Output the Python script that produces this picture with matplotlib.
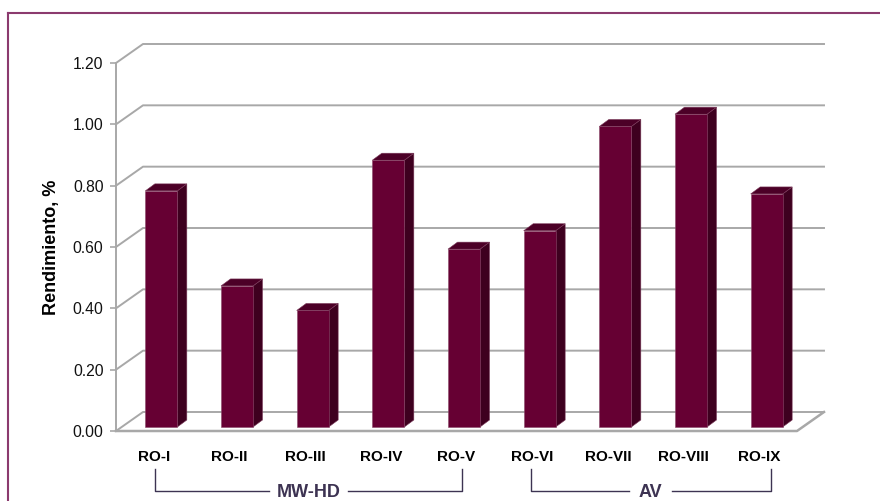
import matplotlib.pyplot as plt
from matplotlib.patches import Polygon

plt.rcParams['font.family'] = ['Liberation Sans', 'DejaVu Sans']

# yields per run
labels = ['RO-I', 'RO-II', 'RO-III', 'RO-IV', 'RO-V', 'RO-VI', 'RO-VII', 'RO-VIII', 'RO-IX']
values = [0.77, 0.46, 0.38, 0.87, 0.58, 0.64, 0.98, 1.02, 0.76]
groups = [('MW-HD', 0, 4), ('AV', 5, 8)]
yticks = [0.0, 0.2, 0.4, 0.6, 0.8, 1.0, 1.2]

front = '#660033'
side = '#3e001f'
top = '#4c0027'
grid = '#a8a8a8'

W, H = 880, 501
fig = plt.figure(figsize=(W / 100, H / 100), dpi=100)
ax = fig.add_axes([116 / W, (H - 431) / H, 681 / W, 368 / H])
ax.set_xlim(-0.5, 8.5)
ax.set_ylim(0, 1.2)

# pixel -> data unit conversions
px_x = 9 / 681
px_y = 1.2 / 368

# wall depth offset
wdx, wdy = 27 * px_x, 19 * px_y

# gridlines on the back wall with diagonals on the left side wall
for v in yticks:
    ax.plot([-0.5, -0.5 + wdx, 8.5 + wdx], [v, v + wdy, v + wdy],
            color=grid, lw=1.4, clip_on=False, zorder=1)
# floor front edge and right diagonal
ax.plot([-0.5, 8.5, 8.5 + wdx], [0, 0, wdy], color=grid, lw=1.8,
        clip_on=False, zorder=1)

# 3D-looking bars
bw = 32 * px_x
off_x, off_y = 7.5 * px_x, 4 * px_y
ddx, ddy = 9.5 * px_x, 7 * px_y
for i, v in enumerate(values):
    x0 = i - bw / 2 + off_x
    x1 = x0 + bw
    y0 = off_y
    y1 = v + off_y
    ax.add_patch(Polygon([(x1, y0), (x1 + ddx, y0 + ddy), (x1 + ddx, y1 + ddy), (x1, y1)],
                         closed=True, facecolor=side, edgecolor='#7a3a5a', lw=0.4,
                         clip_on=False, zorder=3))
    ax.add_patch(Polygon([(x0, y1), (x1, y1), (x1 + ddx, y1 + ddy), (x0 + ddx, y1 + ddy)],
                         closed=True, facecolor=top, edgecolor='#7a3a5a', lw=0.4,
                         clip_on=False, zorder=3))
    ax.bar(x0, v, width=bw, bottom=y0, align='edge', color=front,
           edgecolor='#8a4a6a', lw=0.4, zorder=4)

for s in ['top', 'right', 'bottom']:
    ax.spines[s].set_visible(False)
ax.spines['left'].set_color(grid)
ax.spines['left'].set_linewidth(1.4)
ax.set_yticks(yticks)
ax.set_yticklabels([f'{t:.2f}' for t in yticks], fontsize=11.3, color='#111111')
ax.tick_params(axis='y', length=4, color=grid, width=1.2, pad=5)
ax.set_xticks(range(len(labels)))
ax.set_xticklabels(labels, fontsize=11, fontweight='bold')
ax.tick_params(axis='x', length=0, pad=14)
ax.set_ylabel('Rendimiento, %', fontsize=13, fontweight='bold', labelpad=9)

# group brackets under the category labels
bc = '#3d3352'
ends = {'MW-HD': (0.02, 0.07), 'AV': (-0.02, 0.15)}
for name, a, b in groups:
    xa, xb = a + ends[name][0], b + ends[name][1]
    ym = -0.195
    xm = (xa + xb) / 2
    gap = 0.52 if len(name) > 3 else 0.28
    ax.plot([xa, xa, xm - gap], [-0.125, ym, ym], color=bc, lw=1, clip_on=False)
    ax.plot([xm + gap, xb, xb], [ym, ym, -0.125], color=bc, lw=1, clip_on=False)
    ax.text(xm, ym - 0.005, name, ha='center', va='center', fontsize=13,
            fontweight='bold', color=bc, clip_on=False)

# outer frame (top and left visible)
fig.add_artist(plt.Line2D([8 / W, 8 / W], [0, (H - 13) / H], color='#8b3a6e', lw=1.5))
fig.add_artist(plt.Line2D([8 / W, 1], [(H - 13) / H, (H - 13) / H], color='#8b3a6e', lw=1.5))

fig.savefig('out.png', dpi=100)
